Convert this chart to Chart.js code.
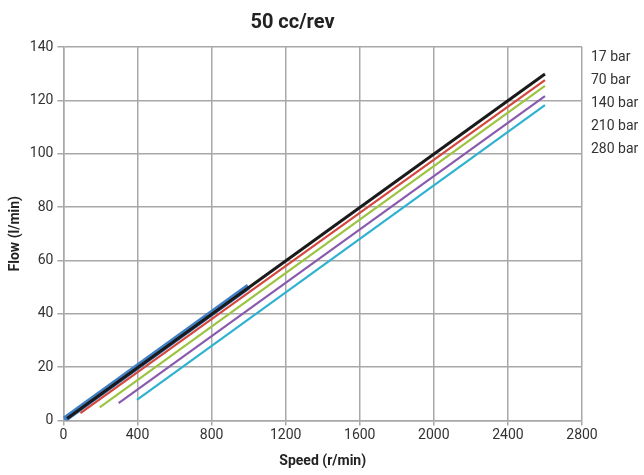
<!DOCTYPE html>
<html><head><meta charset="utf-8">
<script src="https://cdn.jsdelivr.net/npm/chart.js@4.4.0/dist/chart.umd.min.js"></script>
<style>html,body{margin:0;padding:0;background:#fff}#wrap{width:644px;height:475px}</style>
</head><body><div id="wrap"><canvas id="c"></canvas></div>
<script>
const seriesNames = ["17 bar", "70 bar", "140 bar", "210 bar", "280 bar"];
const speed17 = [20, 2600];   const flow17 = [0.7, 129.9];
const speed70 = [92, 2600];   const flow70 = [2.7, 127.6];
const speed140 = [196, 2600]; const flow140 = [4.9, 125.4];
const speed210 = [298, 2600]; const flow210 = [6.5, 121.6];
const speed280 = [397, 2600]; const flow280 = [7.7, 118.2];
const speedBlue = [5, 1000];  const flowBlue = [0.3, 50.2];
const xTicks = [0, 400, 800, 1200, 1600, 2000, 2400, 2800];
const yTicks = [0, 20, 40, 60, 80, 100, 120, 140];

const FONT = "'Roboto', sans-serif";
const pts = (xs, ys) => xs.map((x, i) => ({x: x, y: ys[i]}));

const labelPlugin = {
  id: 'rightLabels',
  afterDraw(chart) {
    const ctx = chart.ctx, a = chart.chartArea;
    ctx.save();
    ctx.font = "14px " + FONT;
    ctx.fillStyle = '#333';
    ctx.textBaseline = 'middle';
    ctx.textAlign = 'left';
    seriesNames.forEach((n, i) => ctx.fillText(n, a.right + 9, a.top + 10 + i * 23));
    ctx.restore();
  }
};

new Chart(document.getElementById('c'), {
  type: 'scatter',
  data: { datasets: [
    {data: pts(speedBlue, flowBlue), borderColor: '#3f7fc6', borderWidth: 6, order: 6},
    {data: pts(speed280, flow280), borderColor: '#2fb2d0', borderWidth: 2.2, order: 5},
    {data: pts(speed210, flow210), borderColor: '#8a5aae', borderWidth: 2.2, order: 4},
    {data: pts(speed140, flow140), borderColor: '#9cc440', borderWidth: 2.2, order: 3},
    {data: pts(speed70, flow70), borderColor: '#d5473d', borderWidth: 2.2, order: 2},
    {data: pts(speed17, flow17), borderColor: '#1a1a1a', borderWidth: 3, order: 1}
  ].map(d => Object.assign({showLine: true, pointRadius: 0, fill: false, borderCapStyle: 'butt'}, d)) },
  options: {
    responsive: true, maintainAspectRatio: false, animation: false,
    layout: {padding: {right: 62, top: 0, left: 3, bottom: 1}},
    plugins: {
      legend: {display: false}, tooltip: {enabled: false},
      title: {display: true, text: '50 cc/rev', color: '#222', font: {family: FONT, size: 20, weight: 'bold'}, padding: {top: 11, bottom: 12}}
    },
    scales: {
      x: {type: 'linear', min: 0, max: 2800,
        afterBuildTicks: s => { s.ticks = xTicks.map(v => ({value: v})); },
        grid: {color: '#a8a8a8', lineWidth: 1.5, tickLength: 5},
        border: {color: '#a8a8a8', width: 1.5},
        ticks: {color: '#333', font: {family: FONT, size: 14}, padding: 2, callback: v => String(v)},
        title: {display: true, text: 'Speed (r/min)', color: '#222', font: {family: FONT, size: 14, weight: 'bold'}, padding: {top: 7}}
      },
      y: {type: 'linear', min: 0, max: 140,
        afterBuildTicks: s => { s.ticks = yTicks.map(v => ({value: v})); },
        grid: {color: '#a8a8a8', lineWidth: 1.5, tickLength: 6},
        border: {color: '#a8a8a8', width: 1.5},
        ticks: {color: '#333', font: {family: FONT, size: 14}, padding: 4, callback: v => String(v)},
        title: {display: true, text: 'Flow (l/min)', color: '#222', font: {family: FONT, size: 14, weight: 'bold'}, padding: {bottom: 2}}
      }
    }
  },
  plugins: [labelPlugin]
});
</script></body></html>
